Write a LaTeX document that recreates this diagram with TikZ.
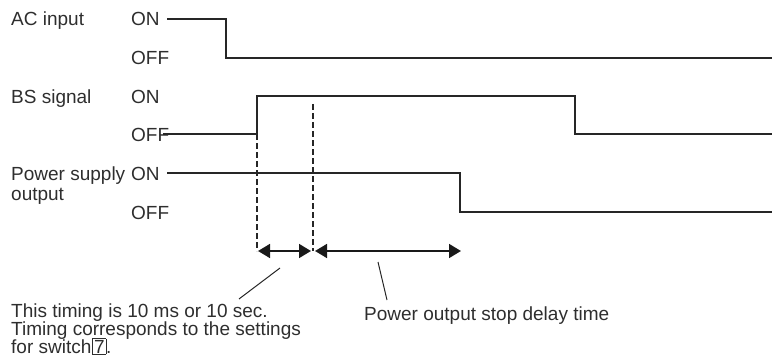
\documentclass[tikz,border=0pt]{standalone}
\usepackage{fontspec}
\setmainfont{Liberation Sans}
\usetikzlibrary{arrows.meta}
\begin{document}
\begin{tikzpicture}[x=1pt,y=-1pt,
  lbl/.style={anchor=base west,inner sep=0pt,font=\fontsize{19}{18}\selectfont,text=black!82},
  sig/.style={line width=1.8pt,black!85},
  dsh/.style={line width=1.4pt,dash pattern=on 6pt off 3pt,black!85},
  dim/.style={line width=1.6pt,black!90,{Triangle[length=12pt,width=14pt]}-{Triangle[length=12pt,width=14pt]}},
  lead/.style={line width=1pt,black!85}]
\useasboundingbox (0,0) rectangle (772,361);
% labels
\node[lbl] (ac) at (11,26) {AC input};
\node[lbl] (acon) at (131,26) {ON};
\node[lbl] (acoff) at (131,65) {OFF};
\node[lbl] (bs) at (11,104) {BS signal};
\node[lbl] (bson) at (131,104) {ON};
\node[lbl] (bsoff) at (131,141) {OFF};
\node[lbl] (ps) at (11,180) {Power supply};
\node[lbl] (ps2) at (11,200) {output};
\node[lbl] (pson) at (131,180) {ON};
\node[lbl] (psoff) at (131,219) {OFF};
% waveforms
\draw[sig] (167,19) -- (226,19) -- (226,58) -- (772,58);
\draw[sig] (163,134) -- (257,134) -- (257,96) -- (575,96) -- (575,134) -- (772,134);
\draw[sig] (167,173) -- (460,173) -- (460,212) -- (772,212);
% dashed
\coordinate (d1t) at (257,134);
\coordinate (d1b) at (257,251);
\coordinate (d2t) at (313,104);
\coordinate (d2b) at (313,251);
\draw[dsh] (d1t) -- (d1b);
\draw[dsh] (d2t) -- (d2b);
% dimension arrows
\coordinate (a1) at (258,251);
\coordinate (a2) at (311,251);
\coordinate (a3) at (315,251);
\coordinate (a4) at (461,251);
\draw[dim] (a1) -- (a2);
\draw[dim] (a3) -- (a4);
% notes
\node[lbl] (n1) at (11,317) {This timing is 10 ms or 10 sec.};
\node[lbl] (n2) at (11,335) {Timing corresponds to the settings};
\node[lbl] (n3) at (11,353) {for switch\kern1pt{\setlength{\fboxsep}{1.2pt}\fbox{7}}.};
\node[lbl] (n4) at (364,320) {Power output stop delay time};
\coordinate (l1a) at (280,268);
\coordinate (l1b) at (239,299);
\coordinate (l2a) at (378,262);
\coordinate (l2b) at (387,300);
\draw[lead] (l1a) -- (l1b);
\draw[lead] (l2a) -- (l2b);
\end{tikzpicture}
\end{document}
